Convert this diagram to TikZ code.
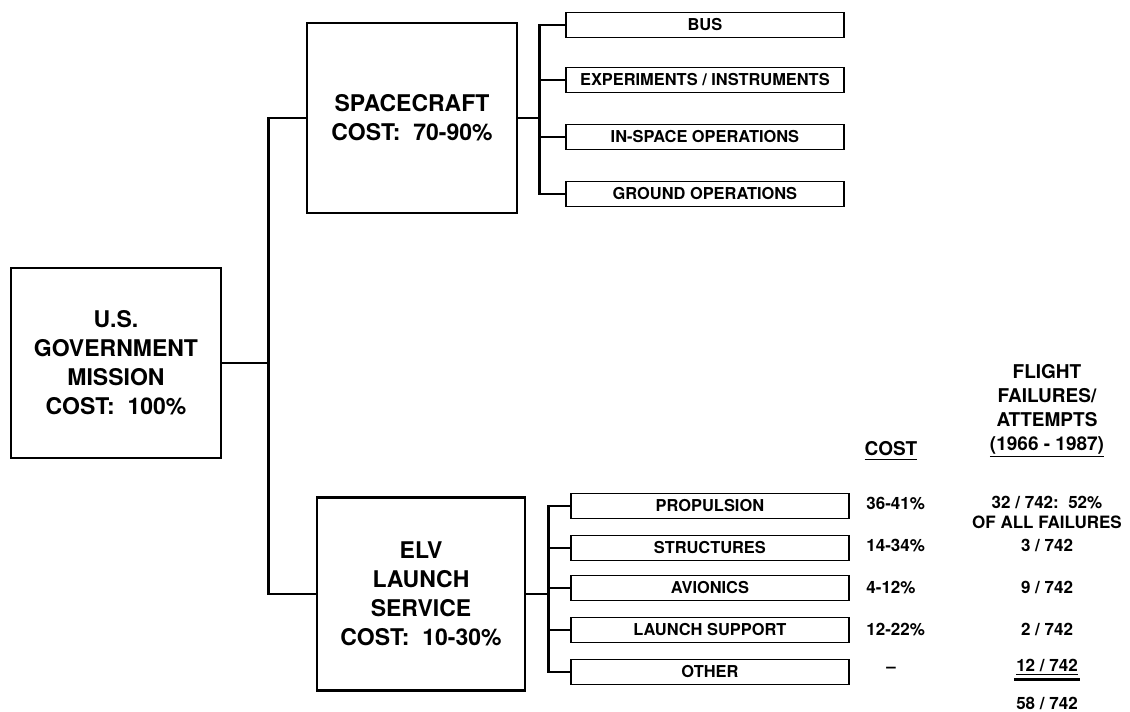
\documentclass[tikz,border=0pt]{standalone}
\usepackage{fontspec}
\setmainfont{TeX Gyre Heros}
\usetikzlibrary{positioning}

\begin{document}
\begin{tikzpicture}[x=0.5pt,y=-0.5pt,
    mainbox/.style={draw,line width=1.1pt,align=center,inner sep=0pt,
        minimum width=105pt,minimum height=95pt,
        font=\fontsize{11.5}{14.5}\selectfont\bfseries},
    subbox/.style={draw,line width=0.9pt,anchor=west,inner sep=0pt,
        minimum width=139pt,minimum height=12.5pt,
        font=\fontsize{8.2}{9}\selectfont\bfseries},
    conn/.style={line width=1.4pt},
    tab/.style={inner sep=1pt,font=\fontsize{8.5}{10.5}\selectfont\bfseries},
    tabhead/.style={align=center,inner sep=1pt,font=\fontsize{9.5}{12}\selectfont\bfseries}]
    \useasboundingbox (0,0) rectangle (1130,712);
    \node[mainbox] (mission) at (116,363) {U.S.\\GOVERNMENT\\MISSION\\COST:~~100\%};
    \node[mainbox] (craft) at (412,118) {SPACECRAFT\\COST:~~70-90\%};
    \node[mainbox,minimum width=104pt,minimum height=96.5pt] (elv) at (421,594) {ELV\\LAUNCH\\SERVICE\\COST:~~10-30\%};
    \coordinate[right=23pt of mission.east] (trunk);
    \draw[conn] (mission.east) -- (trunk);
    \draw[conn] (craft.west) -| (trunk) |- (elv.west);
    \begin{scope}
        \foreach \n/\y/\t in {bus/25/BUS,exper/80/{EXPERIMENTS / INSTRUMENTS},
            inspace/137/IN-SPACE OPERATIONS,ground/194/GROUND OPERATIONS}{
            \node[subbox] (\n) at (565,\y) {\t};
        }
        \coordinate[right=10.5pt of craft.east] (craftbar);
        \draw[conn] (craft.east) -- (craftbar);
        \foreach \n in {bus,exper,inspace,ground}{
            \draw[conn] (craftbar) |- (\n.west);
        }
    \end{scope}
    \begin{scope}
        \foreach \n/\y/\t in {prop/506/PROPULSION,struct/548/STRUCTURES,
            avio/588/AVIONICS,lsup/630/LAUNCH SUPPORT,other/672/OTHER}{
            \node[subbox] (\n) at (570,\y) {\t};
        }
        \coordinate[right=11pt of elv.east] (elvbar);
        \draw[conn] (elv.east) -- (elvbar);
        \foreach \n in {prop,struct,avio,lsup,other}{
            \draw[conn] (elvbar) |- (\n.west);
        }
    \end{scope}
    \node[tabhead] (costhd) at (891,451) {\underline{COST}};
    \node[tabhead] (failhd) at (1047,411) {FLIGHT\\FAILURES/\\ATTEMPTS\\\underline{(1966 - 1987)}};
    \foreach \i/\y/\c in {1/504/36-41\%,2/546/14-34\%,3/588/4-12\%,4/630/12-22\%}{
        \node[tab,anchor=west] (cost\i) at (864,\y) {\c};
    }
    \node[tab] (cost5) at (891,670) {--};
    \node[tab] (fail1) at (1047,503) {32 / 742:~~52\%};
    \node[tab] (fail1b) at (1047,522) {OF ALL FAILURES};
    \node[tab] (fail2) at (1047,545) {3 / 742};
    \node[tab] (fail3) at (1047,587) {9 / 742};
    \node[tab] (fail4) at (1047,629) {2 / 742};
    \node[tab] (fail5) at (1047,667) {\underline{12 / 742}};
    \draw[line width=1.6pt] ([yshift=-1pt]fail5.south west) -- ([yshift=-1pt]fail5.south east);
    \node[tab] (total) at (1047,703) {58 / 742};
\end{tikzpicture}
\end{document}
